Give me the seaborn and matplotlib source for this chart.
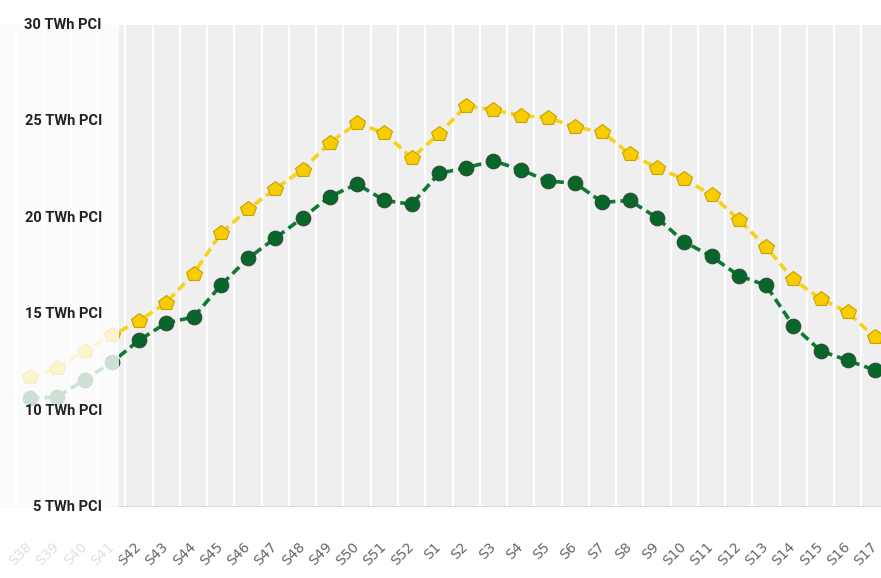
import matplotlib
matplotlib.use("Agg")
import matplotlib.pyplot as plt
from matplotlib.patches import Rectangle
import seaborn as sns
import pandas as pd
import numpy as np

weeks = ["S38", "S39", "S40", "S41", "S42", "S43", "S44", "S45", "S46", "S47", "S48",
         "S49", "S50", "S51", "S52", "S1", "S2", "S3", "S4", "S5", "S6", "S7", "S8",
         "S9", "S10", "S11", "S12", "S13", "S14", "S15", "S16", "S17"]
yellow_vals = [11.75, 12.2, 13.1, 13.9, 14.65, 15.6, 17.1, 19.2, 20.45, 21.5, 22.5,
               23.9, 24.9, 24.4, 23.1, 24.35, 25.8, 25.6, 25.3, 25.2, 24.7, 24.45, 23.3,
               22.6, 22.0, 21.2, 19.9, 18.5, 16.8, 15.8, 15.1, 13.8]
green_vals = [10.65, 10.7, 11.6, 12.5, 13.65, 14.55, 14.85, 16.5, 17.9, 18.95, 20.0,
              21.1, 21.75, 20.9, 20.7, 22.3, 22.6, 22.95, 22.5, 21.9, 21.8, 20.8, 20.9,
              20.0, 18.75, 18.0, 17.0, 16.5, 14.4, 13.1, 12.6, 12.1]
y_ticks = [5, 10, 15, 20, 25, 30]
y_tick_labels = ["5 TWh PCI", "10 TWh PCI", "15 TWh PCI", "20 TWh PCI", "25 TWh PCI", "30 TWh PCI"]

df = pd.DataFrame({"idx": np.arange(len(weeks)), "week": weeks,
                   "yellow": yellow_vals, "green": green_vals})

sns.set_theme(style="white")
plt.rcParams['font.family'] = ['DejaVu Sans']

W, H = 881, 578
fig = plt.figure(figsize=(W / 100, H / 100), dpi=100)
ax = fig.add_axes([0, 71 / H, 1, (507 - 25) / H])

# x mapping: S38 at px 28, spacing 27.26 px
sp = 27.26
x0 = 30
ax.set_xlim((0 - x0) / sp, (W - x0) / sp)
ax.set_ylim(5, 30)
ax.set_facecolor("white")

# gray panel & white boundaries
ax.axvspan(-2, 40, color="#efefef", zorder=0, lw=0)
for k in range(-1, len(weeks)):
    ax.axvline(k + 0.5, color="white", lw=1.6, zorder=0.5)
ax.axhline(5, color="#ccd6eb", lw=1.2, zorder=1)

sns.lineplot(data=df, x="idx", y="green", ax=ax, color="#0b7a33", lw=2.6,
             linestyle=(0, (2.6, 1.4)), marker="o", markersize=10.5,
             markerfacecolor="#07662a", markeredgecolor="#2f4a33", markeredgewidth=0.8,
             zorder=3)
sns.lineplot(data=df, x="idx", y="yellow", ax=ax, color="#f6d21a", lw=2.6,
             linestyle=(0, (2.6, 1.4)), marker="p", markersize=11.5,
             markerfacecolor="#f7cc00", markeredgecolor="#c9a200", markeredgewidth=0.8,
             zorder=4)

for s in ax.spines.values():
    s.set_visible(False)
ax.set_xlabel("")
ax.set_ylabel("")
ax.set_yticks([])
ax.set_xticks(df["idx"])
ax.set_xticklabels(weeks, rotation=45, ha="right", va="center",
                   rotation_mode="anchor", color="#666666", fontsize=10)
ax.tick_params(axis="x", length=0, pad=27)

# white fade overlay on left part (figure level, above everything)
ov_w = 119 / W
fig.patches.append(Rectangle((0, 0), ov_w, 1, transform=fig.transFigure,
                             facecolor="white", alpha=0.8, lw=0, zorder=10))

# y labels drawn on top of overlay
for v, lab in zip(y_ticks, y_tick_labels):
    ypx = 507 - (v - 5) * (507 - 25) / 25
    fig.text(102 / W, 1 - ypx / H, lab, ha="right", va="center",
             fontsize=10.5, fontweight="bold", color="#222222",
             family=["Liberation Sans Narrow", "Roboto", "DejaVu Sans"], zorder=11)

fig.savefig("out.png", dpi=100)
